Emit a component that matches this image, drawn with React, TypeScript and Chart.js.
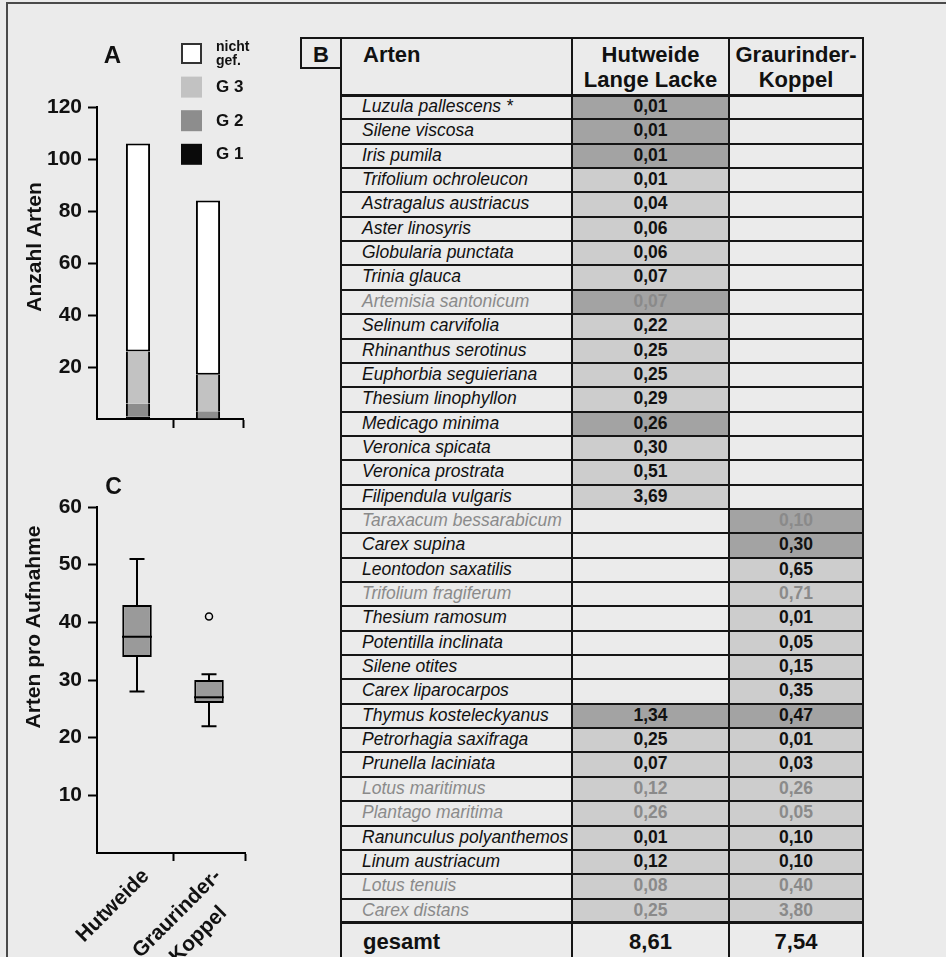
import React, { useEffect, useRef } from 'react';
import { Chart, registerables } from 'chart.js';

Chart.register(...registerables);

const FONT = '"Liberation Sans", Arial, Helvetica, sans-serif';
const INK = '#111111';
const BG = '#ebebeb';
const CLEAR = 'rgba(0,0,0,0)';

// ---------- Panel A: Anzahl Arten (stacked bars)
const sites = ['Hutweide', 'Graurinder-Koppel'];
const g1Counts = [1, 0];
const g2Counts = [5, 3];
const g3Counts = [20, 14];
const notEndangeredCounts = [80, 67];
const countAxisMax = 120;
const countAxisStep = 20;

// ---------- Panel C: Arten pro Aufnahme (box plot)
const boxCategoryLabels = [['Hutweide'], ['Graurinder-', 'Koppel']];
const perPlotMin = [28, 22];
const perPlotQ1 = [34, 26];
const perPlotMedian = [37.5, 27];
const perPlotQ3 = [43, 30];
const perPlotMax = [51, 31];
const perPlotOutlier = [null, 41];
const perPlotAxisMax = 60;
const perPlotAxisStep = 10;

// ---------- Panel B: table
const tableHeaders = [['Arten'], ['Hutweide', 'Lange Lacke'], ['Graurinder-', 'Koppel']];
const species = [
  'Luzula pallescens *', 'Silene viscosa', 'Iris pumila', 'Trifolium ochroleucon',
  'Astragalus austriacus', 'Aster linosyris', 'Globularia punctata', 'Trinia glauca',
  'Artemisia santonicum', 'Selinum carvifolia', 'Rhinanthus serotinus', 'Euphorbia seguieriana',
  'Thesium linophyllon', 'Medicago minima', 'Veronica spicata', 'Veronica prostrata',
  'Filipendula vulgaris', 'Taraxacum bessarabicum', 'Carex supina', 'Leontodon saxatilis',
  'Trifolium fragiferum', 'Thesium ramosum', 'Potentilla inclinata', 'Silene otites',
  'Carex liparocarpos', 'Thymus kosteleckyanus', 'Petrorhagia saxifraga', 'Prunella laciniata',
  'Lotus maritimus', 'Plantago maritima', 'Ranunculus polyanthemos', 'Linum austriacum',
  'Lotus tenuis', 'Carex distans',
];
const coverHutweide = [
  0.01, 0.01, 0.01, 0.01, 0.04, 0.06, 0.06, 0.07, 0.07, 0.22, 0.25, 0.25, 0.29, 0.26, 0.30, 0.51, 3.69,
  null, null, null, null, null, null, null, null,
  1.34, 0.25, 0.07, 0.12, 0.26, 0.01, 0.12, 0.08, 0.25,
];
const coverKoppel = [
  null, null, null, null, null, null, null, null, null, null, null, null, null, null, null, null, null,
  0.10, 0.30, 0.65, 0.71, 0.01, 0.05, 0.15, 0.35,
  0.47, 0.01, 0.03, 0.26, 0.05, 0.10, 0.10, 0.40, 3.80,
];
const speciesGroup = [
  'G2', 'G2', 'G2', 'G3', 'G3', 'G3', 'G3', 'G3', 'G2', 'G3', 'G3', 'G3', 'G3', 'G2', 'G3', 'G3', 'G3',
  'G2', 'G2', 'G3', 'G3', 'G3', 'G3', 'G3', 'G3',
  'G2', 'G3', 'G3', 'G3', 'G3', 'G3', 'G3', 'G3', 'G3',
];
const greySpecies = [
  'Artemisia santonicum', 'Taraxacum bessarabicum', 'Trifolium fragiferum', 'Lotus maritimus',
  'Plantago maritima', 'Lotus tenuis', 'Carex distans',
];
const totalLabel = 'gesamt';
const totalCover = [8.61, 7.54];

const fmt = (v: number) => v.toFixed(2).replace('.', ',');

function drawRotatedTitle(ctx: CanvasRenderingContext2D, text: string, x: number, y: number) {
  ctx.save();
  ctx.translate(x, y);
  ctx.rotate(-Math.PI / 2);
  ctx.font = `bold 21px ${FONT}`;
  ctx.fillStyle = INK;
  ctx.textAlign = 'center';
  ctx.textBaseline = 'middle';
  ctx.fillText(text, 0, 0);
  ctx.restore();
}

// shifts the category axis start a few px right of the value axis (as in the original figure)
function insetXAxis(id: string, inset: number) {
  return {
    id,
    afterLayout(chart: any) {
      const xs = chart.scales.x;
      xs.left = chart.chartArea.left + inset;
      xs.configure();
    },
    afterDraw(chart: any) {
      const ctx: CanvasRenderingContext2D = chart.ctx;
      const { left, bottom } = chart.chartArea;
      ctx.save();
      ctx.strokeStyle = '#000';
      ctx.lineWidth = 2;
      ctx.beginPath();
      ctx.moveTo(left - 1, bottom);
      ctx.lineTo(left + inset + 1, bottom);
      ctx.stroke();
      ctx.restore();
    },
  };
}

function PanelA() {
  const ref = useRef<HTMLCanvasElement>(null);
  useEffect(() => {
    const extras = {
      id: 'panelAExtras',
      afterDraw(chart: any) {
        const ctx: CanvasRenderingContext2D = chart.ctx;
        ctx.save();
        ctx.fillStyle = INK;
        ctx.font = `bold 24px ${FONT}`;
        ctx.textAlign = 'center';
        ctx.textBaseline = 'middle';
        ctx.fillText('A', 112.5, 56);
        ctx.restore();
        drawRotatedTitle(ctx, 'Anzahl Arten', 35, 247);
        const ds = [...chart.data.datasets].reverse();
        ds.forEach((d: any, i: number) => {
          const by = 43 + i * 33.6;
          ctx.save();
          ctx.fillStyle = d.backgroundColor;
          ctx.fillRect(181, by, 21, 21);
          if (i === 0) {
            ctx.strokeStyle = '#333';
            ctx.lineWidth = 2;
            ctx.strokeRect(182, by + 1, 19, 19);
          }
          ctx.fillStyle = INK;
          ctx.textAlign = 'left';
          ctx.textBaseline = 'middle';
          const lines = d.label.startsWith('G') ? [d.label] : d.label.split(' ');
          if (lines.length === 1) {
            ctx.font = `bold 17px ${FONT}`;
            ctx.fillText(lines[0], 216, by + 11);
          } else {
            ctx.font = `bold 14px ${FONT}`;
            ctx.fillText(lines[0], 216, by + 4);
            ctx.fillText(lines[1], 216, by + 18);
          }
          ctx.restore();
        });
      },
    };
    const side = { left: 2, right: 2, top: 0, bottom: 0 };
    const chart = new Chart(ref.current!, {
      type: 'bar',
      data: {
        labels: sites,
        datasets: [
          { label: 'G 1', data: g1Counts, backgroundColor: '#0a0a0a', borderColor: '#000', borderWidth: side },
          { label: 'G 2', data: g2Counts, backgroundColor: '#8d8d8d', borderColor: '#000', borderWidth: side },
          { label: 'G 3', data: g3Counts, backgroundColor: '#c2c2c2', borderColor: '#000', borderWidth: side },
          { label: 'nicht gef.', data: notEndangeredCounts, backgroundColor: '#ffffff', borderColor: '#000', borderWidth: 2 },
        ] as any,
      },
      options: {
        responsive: false,
        animation: false,
        devicePixelRatio: 1,
        events: [],
        layout: { padding: { left: 0, top: 107, right: 57, bottom: 0 } },
        datasets: { bar: { barPercentage: 0.345, categoryPercentage: 1, borderSkipped: false } as any },
        plugins: { legend: { display: false }, tooltip: { enabled: false } },
        scales: {
          x: {
            stacked: true,
            offset: true,
            grid: {
              offset: true, drawOnChartArea: false, tickLength: 9, tickWidth: 2,
              tickColor: (c: any) => (c.index === 0 ? CLEAR : '#000'),
            },
            border: { display: true, color: '#000', width: 2 },
            ticks: { display: false },
            afterFit: (s: any) => { s.height = 21; },
          },
          y: {
            stacked: true,
            min: 0,
            max: countAxisMax,
            ticks: {
              stepSize: countAxisStep, padding: 6, color: INK,
              font: { family: FONT, size: 21, weight: 'bold' },
              callback: (v: any) => (v === 0 ? '' : String(v)),
            },
            grid: {
              drawOnChartArea: false, tickLength: 9, tickWidth: 2,
              tickColor: (c: any) => (c.tick && c.tick.value === 0 ? CLEAR : '#000'),
            },
            border: { display: true, color: '#000', width: 2 },
            afterFit: (s: any) => { s.width = 97; },
          },
        },
      } as any,
      plugins: [insetXAxis('insetA', 6), extras],
    });
    return () => chart.destroy();
  }, []);
  return <canvas ref={ref} width={300} height={440} style={{ position: 'absolute', left: 0, top: 0, width: 300, height: 440 }} />;
}

function PanelC() {
  const ref = useRef<HTMLCanvasElement>(null);
  useEffect(() => {
    const extras = {
      id: 'panelCExtras',
      afterDraw(chart: any) {
        const ctx: CanvasRenderingContext2D = chart.ctx;
        ctx.save();
        ctx.fillStyle = INK;
        ctx.font = `bold 23px ${FONT}`;
        ctx.textAlign = 'center';
        ctx.textBaseline = 'middle';
        ctx.fillText('C', 113.5, 48);
        ctx.restore();
        drawRotatedTitle(ctx, 'Arten pro Aufnahme', 34.5, 187);
        // rotated category labels, lines centred on each other
        const xs = chart.scales.x;
        const labels = chart.data.labels as string[][];
        ctx.save();
        ctx.font = `bold 21px ${FONT}`;
        ctx.fillStyle = INK;
        ctx.textAlign = 'center';
        ctx.textBaseline = 'middle';
        labels.forEach((lines, i) => {
          const w = Math.max(...lines.map((t) => ctx.measureText(t).width));
          ctx.save();
          ctx.translate(xs.getPixelForValue(i) + 9, xs.top + 20);
          ctx.rotate(-Math.PI / 4);
          lines.forEach((t, k) => ctx.fillText(t, -w / 2, k * 30));
          ctx.restore();
        });
        ctx.restore();
      },
    };
    const lineMark = (label: string, data: any[], radius: number) => ({
      type: 'line', label, data, showLine: false, pointStyle: 'line', pointRadius: radius,
      pointBorderWidth: 2, pointBorderColor: '#000', pointBackgroundColor: '#000', order: 0,
    });
    const chart = new Chart(ref.current!, {
      type: 'bar',
      data: {
        labels: boxCategoryLabels as any,
        datasets: [
          lineMark('Median', perPlotMedian, 15),
          lineMark('Maximum', perPlotMax, 7.5),
          lineMark('Minimum', perPlotMin, 7.5),
          {
            type: 'line', label: 'Ausreißer', data: perPlotOutlier, showLine: false, pointStyle: 'circle',
            pointRadius: 3.5, pointBorderWidth: 1.5, pointBorderColor: '#000', pointBackgroundColor: CLEAR, order: 0,
          },
          {
            type: 'bar', label: 'Quartile', data: perPlotQ1.map((q, i) => [q, perPlotQ3[i]]),
            backgroundColor: '#9a9a9a', borderColor: '#000', borderWidth: 2, borderSkipped: false,
            barPercentage: 0.41, categoryPercentage: 1, grouped: false, order: 1,
          },
          {
            type: 'bar', label: 'Whisker', data: perPlotMin.map((m, i) => [m, perPlotMax[i]]),
            backgroundColor: '#000', borderWidth: 0, barPercentage: 2 / 72, categoryPercentage: 1,
            grouped: false, order: 2,
          },
        ] as any,
      },
      options: {
        responsive: false,
        animation: false,
        devicePixelRatio: 1,
        events: [],
        layout: { padding: { left: 0, top: 67, right: 55, bottom: 0 } },
        plugins: { legend: { display: false }, tooltip: { enabled: false } },
        scales: {
          x: {
            offset: true,
            grid: {
              offset: true, drawOnChartArea: false, tickLength: 8, tickWidth: 2,
              tickColor: (c: any) => (c.index === 0 ? CLEAR : '#000'),
            },
            border: { display: true, color: '#000', width: 2 },
            ticks: { display: false },
            afterFit: (s: any) => { s.height = 104; },
          },
          y: {
            min: 0,
            max: perPlotAxisMax,
            ticks: {
              stepSize: perPlotAxisStep, padding: 6, color: INK,
              font: { family: FONT, size: 21, weight: 'bold' },
              callback: (v: any) => (v === 0 ? '' : String(v)),
            },
            grid: {
              drawOnChartArea: false, tickLength: 9, tickWidth: 2,
              tickColor: (c: any) => (c.tick && c.tick.value === 0 ? CLEAR : '#000'),
            },
            border: { display: true, color: '#000', width: 2 },
            afterFit: (s: any) => { s.width = 97; },
          },
        },
      } as any,
      plugins: [insetXAxis('insetC', 4), extras],
    });
    return () => chart.destroy();
  }, []);
  return <canvas ref={ref} width={300} height={517} style={{ position: 'absolute', left: 0, top: 440, width: 300, height: 517 }} />;
}

function TableB() {
  const L = 341, C1 = 572, C2 = 729, R = 863;
  const top = 38, headBottom = 95, rowH = 24.35;
  const rowsBottom = headBottom + species.length * rowH;
  const line = '#151515';
  const els: React.ReactNode[] = [];
  const abs = (key: string, style: React.CSSProperties, child?: React.ReactNode) =>
    els.push(<div key={key} style={{ position: 'absolute', ...style }}>{child}</div>);
  const shade = (g: string) => (g === 'G2' ? '#a3a3a3' : '#cdcdcd');

  species.forEach((sp, i) => {
    const y0 = headBottom + i * rowH;
    if (coverHutweide[i] != null) abs('fh' + i, { left: C1, top: y0, width: C2 - C1, height: rowH, background: shade(speciesGroup[i]) });
    if (coverKoppel[i] != null) abs('fk' + i, { left: C2, top: y0, width: R - C2, height: rowH, background: shade(speciesGroup[i]) });
  });

  abs('ht', { left: L - 1, top: top - 1, width: R - L + 2, height: 2, background: line });
  abs('hh', { left: L - 1, top: headBottom - 1, width: R - L + 2, height: 2.5, background: line });
  for (let i = 1; i < species.length; i++) {
    abs('hr' + i, { left: L - 1, top: headBottom + i * rowH - 1, width: R - L + 2, height: 2, background: line });
  }
  abs('hg', { left: L - 1, top: rowsBottom - 1.5, width: R - L + 2, height: 3, background: line });
  [L, C1, C2, R].forEach((x, i) =>
    abs('v' + i, { left: x - 1, top: top - 1, width: 2, height: 1000, background: line }));
  abs('bbox', { left: 300, top: top - 1, width: 42, height: 32, border: '2px solid ' + line, boxSizing: 'border-box' });
  abs('btxt', { left: 300, top: 42, width: 42, textAlign: 'center', font: `bold 22px ${FONT}`, lineHeight: '25px', color: INK }, 'B');

  const colBounds = [[L, C1], [C1, C2], [C2, R]];
  tableHeaders.forEach((h, c) => {
    const [x0, x1] = colBounds[c];
    const style: React.CSSProperties = c === 0
      ? { left: 363, top: 42 }
      : { left: x0, width: x1 - x0, top: 42, textAlign: 'center' };
    abs('th' + c, { ...style, font: `bold 22px ${FONT}`, lineHeight: '25px', color: INK, whiteSpace: 'nowrap' },
      h.map((t, k) => <div key={k}>{t}</div>));
  });

  species.forEach((sp, i) => {
    const y0 = headBottom + i * rowH + 1;
    const color = greySpecies.includes(sp) ? '#8a8a8a' : INK;
    const base: React.CSSProperties = { top: y0, height: rowH, lineHeight: rowH + 'px', color, whiteSpace: 'nowrap' };
    abs('sp' + i, { ...base, left: 362, font: `italic 17.5px ${FONT}` }, sp);
    const h = coverHutweide[i];
    const k = coverKoppel[i];
    if (h != null) abs('vh' + i, { ...base, left: C1, width: C2 - C1, textAlign: 'center', font: `bold 17.5px ${FONT}` }, fmt(h));
    if (k != null) abs('vk' + i, { ...base, left: C2, width: R - C2, textAlign: 'center', font: `bold 17.5px ${FONT}` }, fmt(k));
  });

  const ty = 929;
  abs('gl', { left: 363, top: ty, font: `bold 22px ${FONT}`, lineHeight: '25px', color: INK }, totalLabel);
  abs('g1', { left: C1, width: C2 - C1, top: ty, textAlign: 'center', font: `bold 22px ${FONT}`, lineHeight: '25px', color: INK }, fmt(totalCover[0]));
  abs('g2', { left: C2, width: R - C2, top: ty, textAlign: 'center', font: `bold 22px ${FONT}`, lineHeight: '25px', color: INK }, fmt(totalCover[1]));

  return <>{els}</>;
}

export default function App() {
  return (
    <div style={{ position: 'fixed', left: 0, top: 0, width: 946, height: 957, overflow: 'hidden', background: BG, fontFamily: FONT }}>
      <div style={{ position: 'absolute', left: 6, top: 2, width: 1000, height: 1000, borderLeft: '2px solid #4a4a4a', borderTop: '2px solid #4a4a4a' }} />
      <PanelA />
      <PanelC />
      <TableB />
    </div>
  );
}
